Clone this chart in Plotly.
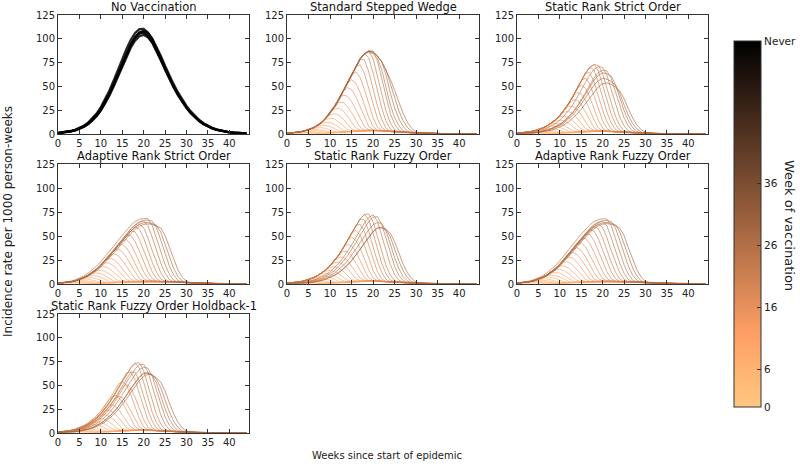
import numpy as np
import plotly.graph_objects as go

# ---------------- data ----------------
weeks = list(range(45))
x_ticks = [0, 5, 10, 15, 20, 25, 30, 35, 40]
y_ticks = [0, 25, 50, 75, 100, 125]
cbar_vals = [0, 6, 16, 26, 36, 59]
cbar_text = ["0", "6", "16", "26", "36", "Never"]

panel_titles = ["No Vaccination", "Standard Stepped Wedge", "Static Rank Strict Order",
                "Adaptive Rank Strict Order", "Static Rank Fuzzy Order", "Adaptive Rank Fuzzy Order",
                "Static Rank Fuzzy Order Holdback-1"]

# week at which each cluster is vaccinated
vacc_weeks = [0, 1, 2, 3, 4, 5, 6, 7, 8, 9, 10, 11, 12, 13, 14, 15, 16, 17, 18, 19, 20, 21, 22, 23, 24]
# colour index (week of vaccination shown on colour bar) for each cluster
color_weeks = [4, 5, 6, 7, 8, 9, 10, 11, 12, 13, 14, 15, 16, 17, 18, 19, 20, 21, 22, 23, 24, 25, 26, 27, 28]
# fraction of incidence remaining 0..7 weeks after vaccination, residual afterwards
decay_after_vacc = [1.0, 0.92, 0.75, 0.55, 0.36, 0.2, 0.09, 0.05]
residual_frac = 0.045

# No vaccination epidemic curve and realisations
env_nv = [0.8, 1.2, 1.7, 2.4, 3.3, 4.6, 6.4, 8.9, 12.2, 16.6, 22.0, 28.8, 36.8, 46.2, 56.8, 67.8, 78.8, 89.0,
          97.8, 104.2, 107.6, 107.0, 102.6, 95.0, 85.6, 75.2, 65.0, 55.4, 46.6, 38.8, 31.8, 25.6, 20.4, 16.0,
          12.4, 9.5, 7.2, 5.4, 4.0, 3.0, 2.2, 1.6, 1.2, 0.9, 0.6]
nv_scale = [0.97, 0.99, 1.0, 1.01, 1.03]
nv_shift = [-0.5, -0.7, -0.6, -0.4, -0.8]

# unvaccinated envelopes for each design
env_ssw = [0.7, 1.0, 1.5, 2.2, 3.2, 4.5, 6.3, 8.8, 12.0, 16.5, 22.0, 28.5, 36.0, 44.5, 53.0, 62.0, 71.0, 79.0,
           84.5, 87.0, 86.0, 82.0, 76.0, 67.5, 57.5, 50.0, 44.0, 38.5, 33.5, 29.0, 24.5, 20.5, 17.0, 14.0,
           11.5, 9.3, 7.5, 6.0, 4.8, 3.8, 3.0, 2.4, 1.9, 1.5, 1.2]
env_srso = [0.8, 1.1, 1.6, 2.3, 3.3, 4.6, 6.3, 8.5, 11.3, 14.8, 19.5, 25.0, 31.5, 39.0, 47.5, 56.0, 64.0, 70.0,
            73.0, 72.0, 69.0, 64.0, 58.0, 51.0, 44.5, 38.5, 33.0, 28.0, 23.5, 19.5, 16.0, 13.0, 10.5, 8.4,
            6.7, 5.3, 4.2, 3.3, 2.6, 2.0, 1.6, 1.2, 0.9, 0.7, 0.5]
env_arso = [0.8, 1.1, 1.6, 2.3, 3.3, 4.8, 6.6, 8.9, 11.8, 15.2, 19.4, 24.0, 29.0, 34.2, 39.6, 45.0, 50.3, 55.2,
            59.2, 62.2, 63.8, 64.0, 63.0, 61.3, 58.8, 55.0, 50.3, 45.2, 40.2, 35.3, 30.6, 26.2, 22.2, 18.6,
            15.4, 12.6, 10.2, 8.2, 6.5, 5.1, 4.0, 3.1, 2.4, 1.9, 1.5]
env_srfo = [0.8, 1.1, 1.6, 2.3, 3.3, 4.6, 6.3, 8.5, 11.2, 14.6, 19.0, 24.2, 30.2, 37.2, 45.0, 53.0, 61.0, 67.8,
            72.5, 73.0, 70.5, 66.0, 60.0, 53.2, 46.5, 40.2, 34.5, 29.3, 24.6, 20.5, 16.9, 13.8, 11.2, 9.0,
            7.2, 5.7, 4.5, 3.5, 2.7, 2.1, 1.6, 1.2, 0.9, 0.7, 0.5]
env_arfo = [0.8, 1.2, 1.7, 2.5, 3.6, 5.1, 7.0, 9.4, 12.4, 16.0, 20.4, 25.2, 30.4, 35.8, 41.2, 46.6, 51.6, 56.2,
            60.0, 62.6, 64.0, 64.2, 63.2, 61.4, 58.6, 54.8, 50.2, 45.2, 40.2, 35.3, 30.6, 26.2, 22.2, 18.6,
            15.4, 12.6, 10.2, 8.2, 6.5, 5.1, 4.0, 3.1, 2.4, 1.9, 1.5]
env_srfh = [0.8, 1.2, 1.7, 2.5, 3.5, 4.9, 6.7, 9.0, 12.0, 15.6, 20.2, 25.6, 31.8, 38.8, 46.5, 54.4, 62.0, 68.6,
            73.2, 73.8, 71.2, 66.6, 60.6, 53.8, 47.0, 40.6, 34.8, 29.5, 24.8, 20.6, 17.0, 13.9, 11.3, 9.1,
            7.3, 5.8, 4.6, 3.6, 2.8, 2.1, 1.6, 1.2, 0.9, 0.7, 0.5]

# per-cluster size factor and timing offset (weeks) of each cluster's curve
scale_ssw = [1, 1, 1, 1, 1, 1, 1, 1, 1, 1, 1, 1, 1, 1, 1, 1, 1, 1, 1, 1.0, 1.01, 0.99, 1.0, 1, 1]
shift_ssw = [0, 0, 0, 0, 0, 0, 0, 0, 0, 0, 0, 0, 0, 0, 0, 0, 0, 0, 0, 0, 0.2, -0.2, 0, 0, 0]
scale_srso = [1, 1, 1, 1, 1, 1, 1, 1, 1, 1, 1, 1, 1, 1, 1, 1, 1, 1, 1, 1, 0.97, 0.92, 0.88, 0.8, 0.74]
shift_srso = [0, 0, 0, 0, 0, 0, 0, 0, 0, 0, 0, 0, 0, 0, 0, 0, 0, 0, 0, 0, 1, 2, 2, 2, 2.5]
scale_arso = [1, 1, 1, 1, 1, 1, 1, 1, 1, 1, 1, 1, 1, 1, 1, 1, 1, 1, 1, 1, 1.03, 1.07, 1.04, 1.0, 0.98]
shift_arso = [0, 0, 0, 0, 0, 0, 0, 0, 0, 0, 0, 0, 0, 0, 0, 0, 0, 0, 0, 0, 0, -0.5, 0, 0, 0.3]
scale_srfo = [1, 1, 1, 1, 1, 1, 1, 1, 1, 1, 1, 1, 1, 1, 1, 1, 1, 1, 1, 1, 0.99, 0.96, 0.88, 0.81, 0.8]
shift_srfo = [0, 0, 0, 0, 0, 0, 0, 0, 0, 0, 0, 0, 0, 0, 0, 0, 0, 0, 0, 0, 1.5, 2, 2.5, 3, 3]
scale_arfo = [1, 1, 1, 1, 1, 1, 1, 1, 1, 1, 1, 1, 1, 1, 1, 1, 1, 1, 1, 1, 1.02, 1.06, 1.03, 1.0, 0.98]
shift_arfo = [0, 0, 0, 0, 0, 0, 0, 0, 0, 0, 0, 0, 0, 0, 0, 0, 0, 0, 0, 0, 0, -0.5, 0, 0.2, 0.3]
scale_srfh = [1, 1, 1, 1, 1, 1, 1, 1, 1, 1, 1, 1, 1.03, 0.98, 1.04, 0.97, 1.02, 0.98, 1, 1, 0.98, 0.94, 0.86, 0.85, 0.84]
shift_srfh = [0, 0, 0, 0, 0, 0, 0, 0, 0, 0, 0, 0, -0.4, 0.5, -0.3, 0.6, 0, 0.5, 0, 0, 1, 1.5, 2, 2, 2.5]

# ---------------- helpers ----------------
T = np.array(weeks, dtype=float)


def copper_r(u):
    x = 1.0 - u
    r = min(1.0, 1.25 * x)
    g = 0.7812 * x
    b = 0.4975 * x
    return int(round(r * 255)), int(round(g * 255)), int(round(b * 255))


def cluster_curve(env, v, scale, shift):
    base = scale * np.interp(T - shift, T, np.array(env, dtype=float))
    d = T - v
    f = np.interp(d, np.arange(len(decay_after_vacc)), decay_after_vacc, right=residual_frac)
    f = np.where(d <= 0, 1.0, f)
    return base * f


colorscale = [[0.0, "rgb(255,199,127)"], [0.2, "rgb(255,159,101)"], [1.0, "rgb(0,0,0)"]]

W, H = 800, 466
xdoms = [[58 / W, 249 / W], [287 / W, 479 / W], [517 / W, 708 / W]]
rows_px = [(15, 134), (164, 284), (314, 433)]
ydoms = [[1 - b / H, 1 - t / H] for t, b in rows_px]
pos = [(0, 0), (1, 0), (2, 0), (0, 1), (1, 1), (2, 1), (0, 2)]

designs = [None,
           (env_ssw, scale_ssw, shift_ssw),
           (env_srso, scale_srso, shift_srso),
           (env_arso, scale_arso, shift_arso),
           (env_srfo, scale_srfo, shift_srfo),
           (env_arfo, scale_arfo, shift_arfo),
           (env_srfh, scale_srfh, shift_srfh)]

fig = go.Figure()
FONT = "DejaVu Sans"
axcol = "#333333"
annotations = []

for i, (c, r) in enumerate(pos):
    xa = "x" if i == 0 else f"x{i + 1}"
    ya = "y" if i == 0 else f"y{i + 1}"
    if designs[i] is None:
        for s, sh in zip(nv_scale, nv_shift):
            yv = s * np.interp(T - sh, T, np.array(env_nv, dtype=float))
            fig.add_trace(go.Scatter(x=weeks, y=yv, mode="lines", xaxis=xa, yaxis=ya,
                                     line=dict(color="rgba(0,0,0,0.85)", width=2.2),
                                     hoverinfo="skip", showlegend=False))
    else:
        env, scales, shifts = designs[i]
        for v, cw, s, sh in zip(vacc_weeks, color_weeks, scales, shifts):
            rr, gg, bb = copper_r(cw / 59.0)
            fig.add_trace(go.Scatter(x=weeks, y=cluster_curve(env, v, s, sh), mode="lines",
                                     xaxis=xa, yaxis=ya,
                                     line=dict(color=f"rgba({rr},{gg},{bb},0.65)", width=1),
                                     hoverinfo="skip", showlegend=False))
    axkw = dict(showline=True, linecolor=axcol, linewidth=1, mirror="ticks", ticks="inside",
                ticklen=4, tickcolor=axcol, showgrid=False, zeroline=False,
                tickfont=dict(family=FONT, size=10, color="#222"))
    fig.layout[("xaxis" if i == 0 else f"xaxis{i + 1}")] = dict(
        domain=xdoms[c], anchor=ya, range=[0, 44.6], tickvals=x_ticks, **axkw)
    fig.layout[("yaxis" if i == 0 else f"yaxis{i + 1}")] = dict(
        domain=ydoms[r], anchor=xa, range=[0, 125], tickvals=y_ticks, **axkw)
    annotations.append(dict(text=panel_titles[i], xref="paper", yref="paper",
                            x=(xdoms[c][0] + xdoms[c][1]) / 2, y=ydoms[r][1] + 8 / H,
                            xanchor="center", yanchor="middle", showarrow=False,
                            font=dict(family=FONT, size=11.5, color="#111")))

# colour bar
fig.add_trace(go.Scatter(x=[-50, -50], y=[-50, -50], mode="markers", xaxis="x", yaxis="y",
                         hoverinfo="skip", showlegend=False,
                         marker=dict(color=[0, 59], colorscale=colorscale, cmin=0, cmax=59,
                                     showscale=True,
                                     colorbar=dict(x=734 / W, xanchor="left", y=1 - 224 / H,
                                                   yanchor="middle", len=366 / H, lenmode="fraction",
                                                   thickness=27, thicknessmode="pixels",
                                                   outlinewidth=1, outlinecolor=axcol,
                                                   tickvals=cbar_vals, ticktext=cbar_text,
                                                   ticks="inside", ticklen=4, tickcolor=axcol,
                                                   xpad=0, ypad=0,
                                                   tickfont=dict(family=FONT, size=10.5, color="#222")))))

annotations += [
    dict(text="Week of vaccination", xref="paper", yref="paper", x=790 / W, y=1 - 225 / H,
         textangle=90, showarrow=False, xanchor="center", yanchor="middle",
         font=dict(family=FONT, size=13, color="#222")),
    dict(text="Incidence rate per 1000 person-weeks", xref="paper", yref="paper", x=8 / W,
         y=1 - 222 / H, textangle=-90, showarrow=False, xanchor="center", yanchor="middle",
         font=dict(family=FONT, size=12, color="#222")),
    dict(text="Weeks since start of epidemic", xref="paper", yref="paper", x=387 / W,
         y=1 - 455 / H, showarrow=False, xanchor="center", yanchor="middle",
         font=dict(family=FONT, size=10, color="#222")),
]

fig.update_layout(width=W, height=H, margin=dict(l=0, r=0, t=0, b=0, autoexpand=False),
                  paper_bgcolor="white", plot_bgcolor="white", showlegend=False,
                  annotations=annotations)

fig.write_html("out.html", config={"displayModeBar": False},
               post_script="document.body.style.margin='0px';document.body.style.overflow='hidden';"
                           "document.documentElement.style.overflow='hidden';")
